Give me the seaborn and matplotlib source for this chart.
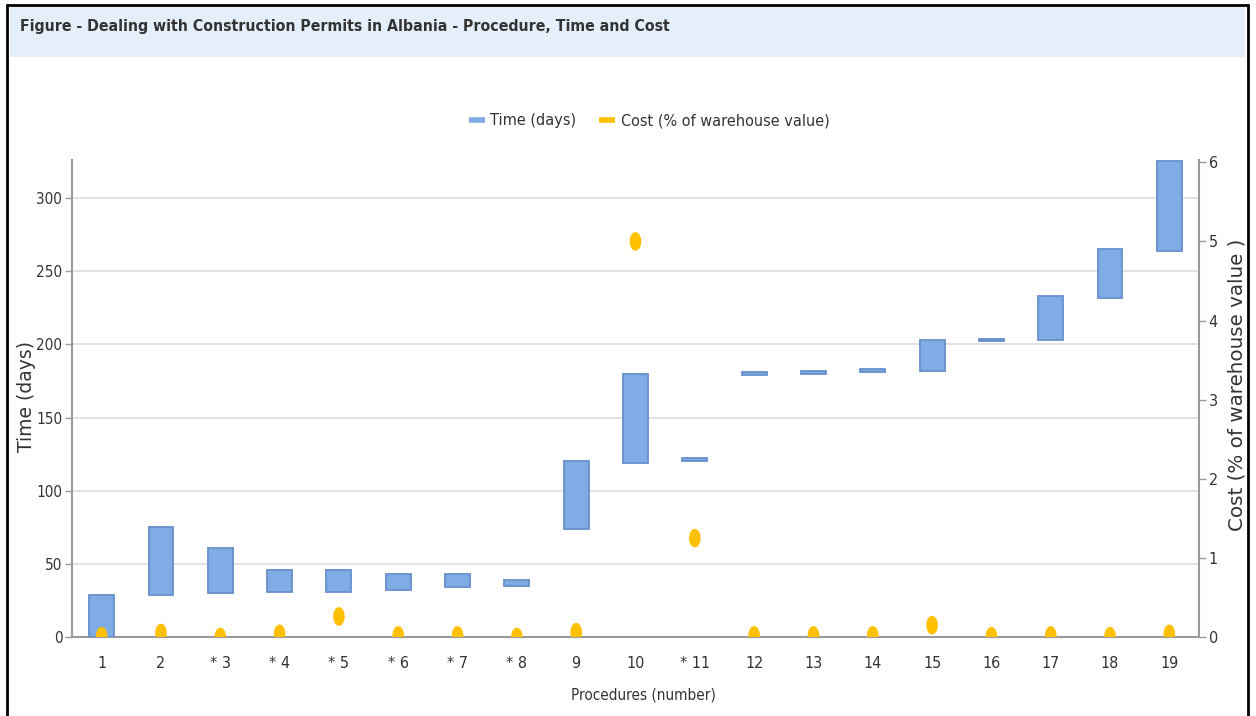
import numpy as np
import pandas as pd
import matplotlib
matplotlib.use("Agg")
import matplotlib.pyplot as plt
from matplotlib.lines import Line2D
from matplotlib.patches import Rectangle
from matplotlib.path import Path
import seaborn as sns

# data
procedures = ["1", "2", "* 3", "* 4", "* 5", "* 6", "* 7", "* 8", "9", "10",
              "* 11", "12", "13", "14", "15", "16", "17", "18", "19"]
time_start = [0, 29, 30, 31, 31, 32, 34, 35, 74, 119, 120, 179, 180, 181, 182, 202, 203, 232, 264]
time_end = [29, 75, 61, 46, 46, 43, 43, 39, 120, 180, 122, 181, 182, 183, 203, 204, 233, 265, 325]
cost_pct = [0.01, 0.05, 0.0, 0.04, 0.26, 0.02, 0.02, 0.0, 0.06, 5.0,
            1.25, 0.02, 0.02, 0.02, 0.15, 0.01, 0.02, 0.01, 0.04]

df = pd.DataFrame({
    "procedure": procedures,
    "start": time_start,
    "duration": np.array(time_end) - np.array(time_start),
    "cost": cost_pct,
})
df["pos"] = np.arange(len(df))

BAR_FILL = "#80ace6"
BAR_EDGE = "#6690cc"
DOT = "#ffc000"
TXT = "#333333"
AXC = "#9a9a9a"

sns.set_theme(style="white")
plt.rcParams["font.family"] = ["DejaVu Sans"]
plt.rcParams["font.stretch"] = "condensed"

fig = plt.figure(figsize=(12.56, 7.16), dpi=100)

# frame and title banner
fig.patches.append(Rectangle((10 / 1256, 1 - 57 / 716), 1235 / 1256, 51 / 716,
                             transform=fig.transFigure, facecolor="#e4effa",
                             edgecolor="none", zorder=0))
fig.add_artist(Line2D([7 / 1256, 7 / 1256], [0, 1 - 5 / 716], transform=fig.transFigure, color="black", lw=2))
fig.add_artist(Line2D([1248 / 1256, 1248 / 1256], [0, 1 - 5 / 716], transform=fig.transFigure, color="black", lw=2))
fig.add_artist(Line2D([7 / 1256, 1248 / 1256], [1 - 5 / 716, 1 - 5 / 716], transform=fig.transFigure, color="black", lw=2))
fig.text(20 / 1256, 1 - 27 / 716, "Figure - Dealing with Construction Permits in Albania - Procedure, Time and Cost",
         ha="left", va="center", fontsize=11.3, fontweight="bold", color=TXT, fontstretch="condensed")

ax = fig.add_axes([72 / 1256, 1 - 637 / 716, 1127 / 1256, 477 / 716])

sns.barplot(data=df, x="procedure", y="duration", bottom=df["start"], ax=ax,
            color=BAR_FILL, edgecolor=BAR_EDGE, linewidth=1.3, width=0.42,
            saturation=1, zorder=3)

ax.set_xlim(-0.5, len(df) - 0.5)
ax.set_ylim(0, 326)
ax.set_yticks([0, 50, 100, 150, 200, 250, 300])
ax.yaxis.grid(True, color="#dedede", lw=1.2)
ax.set_axisbelow(True)
ax.set_xticks(df["pos"])
ax.set_xticklabels(procedures)
ax.set_xticks(df["pos"][:-1] + 0.5, minor=True)
ax.tick_params(axis="x", which="major", length=0, pad=14, labelsize=11.5, labelcolor=TXT)
ax.tick_params(axis="x", which="minor", length=7, width=1, color=AXC, direction="out")
ax.tick_params(axis="y", length=5, width=1, pad=2, color=AXC, labelsize=11, labelcolor=TXT, left=True)
for s in ["top", "right"]:
    ax.spines[s].set_visible(False)
for s in ["left", "bottom"]:
    ax.spines[s].set_color(AXC)
    ax.spines[s].set_linewidth(1.5)
ax.set_xlabel("Procedures (number)", fontsize=11, color=TXT)
ax.xaxis.set_label_coords(0.507, -0.105)
ax.set_ylabel("Time (days)", fontsize=13.5, color=TXT, fontstretch="normal")
ax.yaxis.set_label_coords(-0.032, 0.504)

ax2 = ax.twinx()
theta = np.linspace(0, 2 * np.pi, 60)
ellipse = Path(np.column_stack([0.62 * np.cos(theta), np.sin(theta)]), closed=True)
sns.scatterplot(data=df, x="pos", y="cost", ax=ax2, color=DOT, marker=ellipse,
                s=180, edgecolor="none", zorder=4, legend=False)
ax2.set_ylim(0, 6.03)
ax2.set_yticks([0, 1, 2, 3, 4, 5, 6])
ax2.tick_params(axis="y", length=5, width=1, pad=2, color=AXC, labelsize=11.5, labelcolor=TXT, right=True)
for s in ["top", "left", "bottom"]:
    ax2.spines[s].set_visible(False)
ax2.spines["right"].set_color(AXC)
ax2.spines["right"].set_linewidth(1.5)
ax2.set_xlabel("")
ax2.set_ylabel("Cost (% of warehouse value )", fontsize=14.3, color=TXT, fontstretch="normal")
ax2.yaxis.set_label_coords(1.0257, 0.528)
ax2.set_xlim(-0.5, len(df) - 0.5)

handles = [Line2D([], [], color=BAR_FILL, lw=4, solid_capstyle="butt"),
           Line2D([], [], color=DOT, lw=4, solid_capstyle="butt")]
fig.legend(handles, ["Time (days)", "Cost (% of warehouse value)"], loc="center",
           bbox_to_anchor=(649 / 1256, 1 - 121 / 716), ncol=2, frameon=False,
           fontsize=11.6, handlelength=1.0, handletextpad=0.35, columnspacing=1.4, labelcolor=TXT)

fig.savefig("out.png", dpi=100)
